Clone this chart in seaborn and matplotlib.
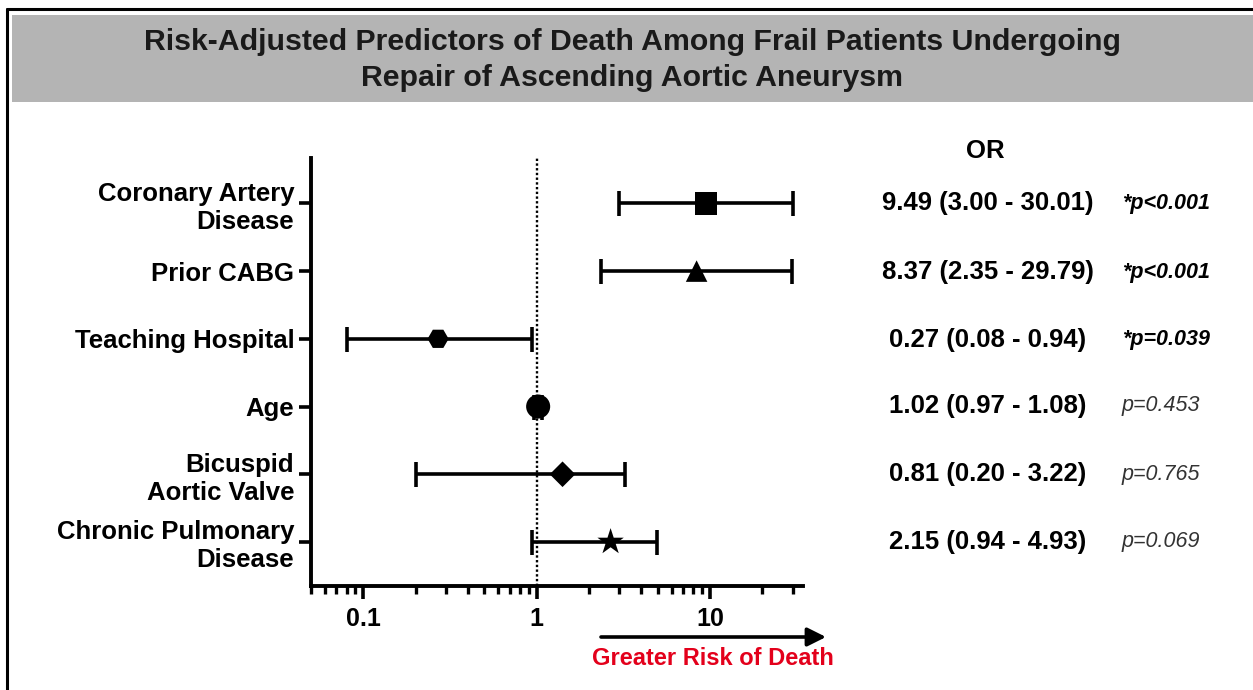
import numpy as np
import pandas as pd
import matplotlib
matplotlib.use("Agg")
import matplotlib.pyplot as plt
from matplotlib.patches import Rectangle
from matplotlib.lines import Line2D
import seaborn as sns

# ---- data ----
predictors = ["Coronary Artery\nDisease", "Prior CABG", "Teaching Hospital",
              "Age", "Bicuspid\nAortic Valve", "Chronic Pulmonary\nDisease"]
or_point = [9.49, 8.37, 0.27, 1.02, 1.41, 2.67]
ci_low = [3.00, 2.35, 0.08, 0.97, 0.20, 0.94]
ci_high = [30.01, 29.79, 0.94, 1.08, 3.22, 4.93]
marker_shapes = ["s", "^", "H", "o", "D", "*"]
marker_sizes = [260, 240, 230, 300, 170, 400]
or_text = ["9.49 (3.00 - 30.01)", "8.37 (2.35 - 29.79)", "0.27 (0.08 - 0.94)",
           "1.02 (0.97 - 1.08)", "0.81 (0.20 - 3.22)", "2.15 (0.94 - 4.93)"]
p_text = ["*p<0.001", "*p<0.001", "*p=0.039", "p=0.453", "p=0.765", "p=0.069"]
significant = [True, True, True, False, False, False]

title_lines = ["Risk-Adjusted Predictors of Death Among Frail Patients Undergoing",
               "Repair of Ascending Aortic Aneurysm"]

df = pd.DataFrame({
    "predictor": predictors,
    "pos": np.arange(len(predictors)),
    "or": or_point,
    "lo": ci_low,
    "hi": ci_high,
})

sns.set_theme(style="ticks")
plt.rcParams["font.family"] = ["Liberation Sans", "DejaVu Sans"]
plt.rcParams["text.color"] = "black"
plt.rcParams["xtick.labelcolor"] = "black"
plt.rcParams["ytick.labelcolor"] = "black"

W, H = 1253, 690
fig = plt.figure(figsize=(W / 100, H / 100), dpi=100)
fig.patch.set_facecolor("white")


def fx(px):
    return px / W


def fy(py):
    return 1 - py / H


# frame lines and grey title band
fig.add_artist(Line2D([fx(7), 1], [fy(9), fy(9)], color="black", lw=2.2))
fig.add_artist(Line2D([fx(7), fx(7)], [fy(9), 0], color="black", lw=2.2))
fig.add_artist(Rectangle((fx(12), fy(102)), 1 - fx(12), fy(15) - fy(102),
                         transform=fig.transFigure, facecolor="#b4b4b4",
                         edgecolor="none"))
fig.text(fx(632), fy(50), title_lines[0], ha="center", va="baseline",
         fontsize=21.8, fontweight="bold", color="#1a1a1a")
fig.text(fx(632), fy(86.5), title_lines[1], ha="center", va="baseline",
         fontsize=21.8, fontweight="bold", color="#1a1a1a")

ax = fig.add_axes([fx(311), fy(586), fx(803) - fx(311), fy(158) - fy(586)])

# confidence intervals
ax.errorbar(df["or"], df["pos"], xerr=[df["or"] - df["lo"], df["hi"] - df["or"]],
            fmt="none", ecolor="black", elinewidth=2.6, capsize=9, capthick=2.6,
            zorder=2)
ax.axvline(1, color="black", lw=1.7, ls=(0, (1, 1.0)), zorder=1)

sns.scatterplot(data=df, x="or", y="pos", style="predictor",
                markers=dict(zip(predictors, marker_shapes)),
                size="predictor", sizes=dict(zip(predictors, marker_sizes)),
                color="black", edgecolor="black", linewidth=0, legend=False,
                ax=ax, zorder=3)

ax.set_xscale("log")
ax.set_xlim(0.0499, 34.4)
ax.set_ylim(5.65, -0.67)
ax.set_xticks([0.1, 1, 10])
ax.set_xticklabels(["0.1", "1", "10"])
ax.set_yticks(df["pos"])
ax.set_yticklabels(predictors, linespacing=1.2)
ax.set_xlabel("")
ax.set_ylabel("")
for lab in ax.get_xticklabels():
    lab.set_fontweight("bold")
    lab.set_fontsize(18)
    lab.set_color("black")
for lab in ax.get_yticklabels():
    lab.set_fontweight("bold")
    lab.set_fontsize(18.5)
    lab.set_color("black")
ax.tick_params(axis="both", which="major", length=9, width=2.6, color="black",
               pad=3)
ax.tick_params(axis="x", which="major", pad=6)
ax.tick_params(axis="x", which="minor", length=5.5, width=2.4, color="black")
ax.tick_params(axis="y", which="minor", length=0)
sns.despine(ax=ax)
for side in ["left", "bottom"]:
    ax.spines[side].set_linewidth(2.8)
    ax.spines[side].set_color("black")
ax.set_facecolor("white")

# OR table on the right
fig.text(fx(985), fy(151), "OR", ha="center", va="center",
         fontsize=18.5, fontweight="bold", color="black")
row_y = [203.3, 272.3, 340, 406, 474.3, 541.7]
for yy, ot, pt, sig in zip(row_y, or_text, p_text, significant):
    fig.text(fx(988), fy(yy), ot, ha="center", va="center",
             fontsize=18.5, fontweight="bold", color="black")
    fig.text(fx(1122), fy(yy), pt, ha="left", va="center", fontsize=15.5,
             fontstyle="italic", fontweight="bold" if sig else "normal",
             color="black" if sig else "#333333")

# direction arrow
ax.annotate("", xy=(fx(826), fy(637)), xytext=(fx(601), fy(637)),
            xycoords="figure fraction", textcoords="figure fraction",
            arrowprops=dict(arrowstyle="-|>", color="black", lw=2.6,
                            mutation_scale=28, shrinkA=0, shrinkB=0))
fig.text(fx(713), fy(665), "Greater Risk of Death", ha="center", va="baseline",
         fontsize=17, fontweight="bold", color="#e3001b")

fig.savefig("out.png", dpi=100)
